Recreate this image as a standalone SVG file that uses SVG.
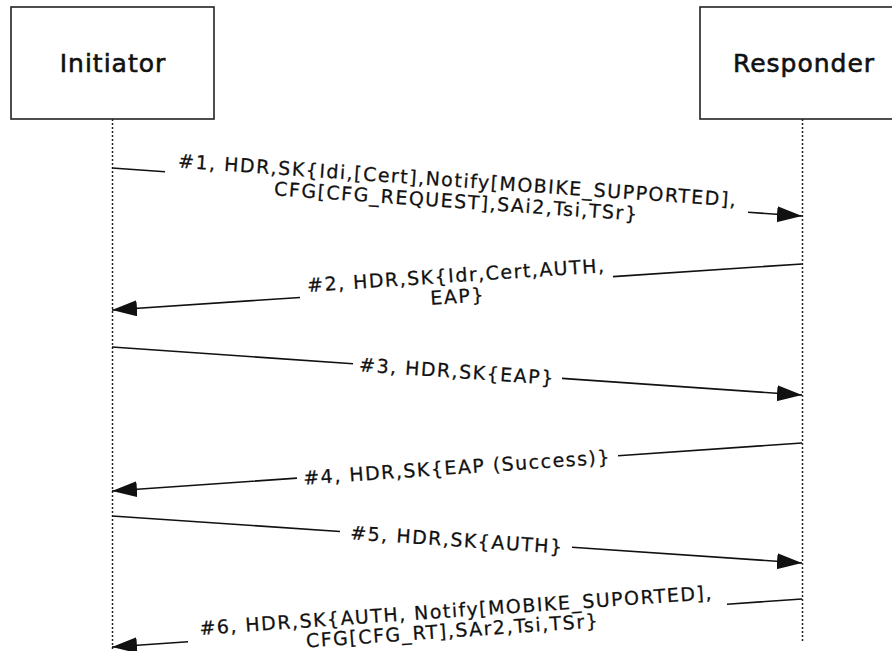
<svg xmlns="http://www.w3.org/2000/svg" width="892" height="651" viewBox="0 0 892 651">
<style>
.box{fill:#fff;stroke:#222;stroke-width:1.6}
.hdr{font-family:"DejaVu Sans",Verdana,sans-serif;font-size:25px;letter-spacing:1px;fill:#111;stroke:#111;stroke-width:0.6;text-anchor:middle}
.life{stroke:#222;stroke-width:1.5;stroke-dasharray:2,2;fill:none}
.msg{stroke:#111;stroke-width:1.6;fill:none;marker-end:url(#arr)}
.lbl{font-family:"DejaVu Sans",Verdana,sans-serif;font-size:19px;letter-spacing:1.5px;fill:#111;stroke:#111;stroke-width:0.25;text-anchor:middle}
</style>
<defs>
<marker id="arr" markerUnits="userSpaceOnUse" markerWidth="26" markerHeight="18" refX="25" refY="8" orient="auto">
<path d="M0,0 L25,8 L0,16 Z" fill="#111"/>
</marker>
</defs>
<rect width="892" height="651" fill="#fff"/>
<g id="initiator">
<rect class="box" x="11" y="7" width="203" height="112"/>
<text class="hdr" x="113" y="72">Initiator</text>
<line class="life" x1="112.5" y1="119" x2="112.5" y2="651"/>
</g>
<g id="responder">
<rect class="box" x="700" y="7" width="210" height="112"/>
<text class="hdr" x="804" y="72">Responder</text>
<line class="life" x1="802.5" y1="119" x2="802.5" y2="643"/>
</g>
<g id="connectors">
<path class="msg" d="M112,168 L165,171.7 M748,212.3 L802,216"/>
<path class="msg" d="M802,264 L613,276.6 M300,297.5 L112,310"/>
<path class="msg" d="M112,347 L353,363.8 M562,378.4 L802,395"/>
<path class="msg" d="M802,443 L618,455.8 M297,478.1 L112,491"/>
<path class="msg" d="M112,516 L340,531.5 M572,547.3 L802,563"/>
<path class="msg" d="M802,599 L727,604.2 M188,641.7 L112,647"/>
</g>
<g id="labels">
<g transform="rotate(3.98 457 192)">
<text class="lbl" x="457" y="187">#1, HDR,SK{Idi,[Cert],Notify[MOBIKE_SUPPORTED],</text>
<text class="lbl" x="457" y="208">CFG[CFG_REQUEST],SAi2,Tsi,TSr}</text>
</g>
<g transform="rotate(-3.81 457 287)">
<text class="lbl" x="457" y="282">#2, HDR,SK{Idr,Cert,AUTH,</text>
<text class="lbl" x="457" y="303">EAP}</text>
</g>
<g transform="rotate(3.98 457 371)">
<text class="lbl" x="457" y="378">#3, HDR,SK{EAP}</text>
</g>
<g transform="rotate(-3.98 457 467)">
<text class="lbl" x="457" y="474">#4, HDR,SK{EAP (Success)}</text>
</g>
<g transform="rotate(3.9 457 539.5)">
<text class="lbl" x="457" y="546.5">#5, HDR,SK{AUTH}</text>
</g>
<g transform="rotate(-3.98 457 623)">
<text class="lbl" x="457" y="617">#6, HDR,SK{AUTH, Notify[MOBIKE_SUPORTED],</text>
<text class="lbl" x="452" y="637">CFG[CFG_RT],SAr2,Tsi,TSr}</text>
</g>
</g>
</svg>
